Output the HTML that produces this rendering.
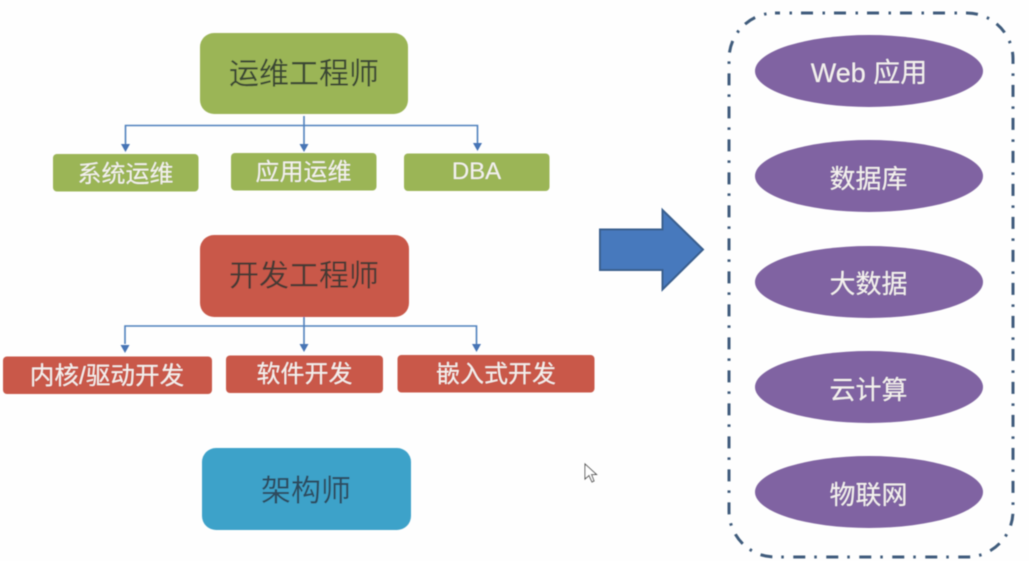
<!DOCTYPE html>
<html lang="zh">
<head>
<meta charset="utf-8">
<style>
html,body{margin:0;padding:0;background:#fefefe;width:1029px;height:561px;overflow:hidden}
svg{display:block}
text{font-family:"Liberation Sans","Noto Sans CJK SC",sans-serif;text-anchor:middle;font-weight:400}
.d{fill:#3a4636}
.w{fill:#f4f1ee}
</style>
</head>
<body>
<svg width="1029" height="561" viewBox="0 0 1029 561" xmlns="http://www.w3.org/2000/svg">
<defs><filter id="b" x="-5%" y="-5%" width="110%" height="110%"><feGaussianBlur stdDeviation="0.45"/></filter></defs>
<g filter="url(#b)">
<rect x="200" y="33" width="208" height="81" rx="14" fill="#9bb557"/>
<rect x="53" y="154" width="145.500" height="37.500" rx="4" fill="#9bb557"/>
<rect x="231" y="153" width="145.500" height="37.500" rx="4" fill="#9bb557"/>
<rect x="404" y="153.500" width="145.500" height="37.500" rx="4" fill="#9bb557"/>
<rect x="200" y="235" width="209" height="82" rx="14" fill="#c9594a"/>
<rect x="3" y="356.500" width="209" height="37.500" rx="4" fill="#c9594a"/>
<rect x="226" y="355.500" width="157" height="37.500" rx="4" fill="#c9594a"/>
<rect x="397.500" y="355" width="197" height="37.500" rx="4" fill="#c9594a"/>
<rect x="202" y="448" width="209" height="82" rx="14" fill="#3ea2c9"/>

<g fill="none" stroke="#4f81bd" stroke-width="1.600">
<path d="M304 116V144"/>
<path d="M125.500 144V125.500H477.500V144"/>
<path d="M125 344V326H476.500V344"/>
<path d="M304 317V344"/>
</g>
<g fill="#4775b5">
<path d="M121 144H130L125.500 152Z"/>
<path d="M299.500 144H308.500L304 152Z"/>
<path d="M473 143H482L477.500 151Z"/>
<path d="M120.500 345H129.500L125 353Z"/>
<path d="M299.500 344H308.500L304 352Z"/>
<path d="M472 344H481L476.500 352Z"/>
</g>

<path d="M600 229.500H662.500V210L703 249.500L662.500 289.500V270H600Z" fill="#4679bd" stroke="#3a5f8e" stroke-width="2"/>

<rect x="729" y="13" width="284" height="544" rx="46" fill="none" stroke="#3f5c7c" stroke-width="3" stroke-dasharray="12 9.500 2.500 9" stroke-dashoffset="7"/>

<ellipse cx="869" cy="71" rx="114" ry="36" fill="#8064a2"/>
<ellipse cx="869" cy="176" rx="114" ry="36" fill="#8064a2"/>
<ellipse cx="869" cy="282" rx="114" ry="36" fill="#8064a2"/>
<ellipse cx="869" cy="387" rx="114" ry="36" fill="#8064a2"/>
<ellipse cx="869" cy="492" rx="114" ry="36" fill="#8064a2"/>

<path d="M585 464V479L589 475.500L592 482L594 481L591.500 474.500L596.500 474.500Z" fill="#fff" stroke="#555" stroke-width="1"/>

<text class="d" x="304" y="84" font-size="30">运维工程师</text>
<text class="w" x="125.500" y="182" font-size="24">系统运维</text>
<text class="w" x="303.500" y="180" font-size="24">应用运维</text>
<text class="w" x="476.500" y="179" font-size="24">DBA</text>
<text class="d" x="304" y="286" font-size="30" style="fill:#453a36">开发工程师</text>
<text class="w" x="107" y="384" font-size="24.600">内核/驱动开发</text>
<text class="w" x="304.500" y="382" font-size="24">软件开发</text>
<text class="w" x="496" y="382" font-size="24">嵌入式开发</text>
<text class="d" x="306" y="501" font-size="30" style="fill:#2f4c5e">架构师</text>
<text class="w" x="869" y="82" font-size="27">Web 应用</text>
<text class="w" x="868.500" y="188" font-size="26">数据库</text>
<text class="w" x="868.500" y="293" font-size="26">大数据</text>
<text class="w" x="868.500" y="399" font-size="26">云计算</text>
<text class="w" x="868.500" y="504" font-size="26">物联网</text>
</g>
</svg>
</body>
</html>
